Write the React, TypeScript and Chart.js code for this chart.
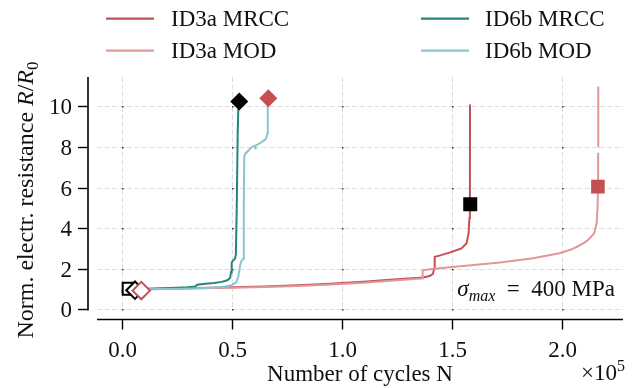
import React, { useEffect, useRef } from 'react';
import { Chart, registerables } from 'chart.js';

Chart.register(...registerables);

// ---------- data ----------
const xTickValues = [0, 50000, 100000, 150000, 200000];
const xTickLabels = ['0.0', '0.5', '1.0', '1.5', '2.0'];
const yTickValues = [0, 2, 4, 6, 8, 10];
const yTickLabels = ['0', '2', '4', '6', '8', '10'];

const X_MIN = -11230;
const X_MAX = 227900;
const Y_MIN = -0.05;
const Y_MAX = 11.45;

const id3aMrccX = [0, 2000, 8000, 20000, 35000, 50000, 65000, 80000, 95000, 100000, 110000, 122000, 130000, 135000, 137000, 140000, 141500, 142000, 142300, 144000, 149000, 154500, 156800, 157700, 158100, 158300, 158350];
const id3aMrccY = [0.92, 0.97, 1.0, 1.03, 1.06, 1.09, 1.13, 1.19, 1.27, 1.3, 1.37, 1.47, 1.53, 1.56, 1.58, 1.65, 1.75, 2.0, 2.6, 2.64, 2.8, 3.01, 3.26, 3.75, 4.5, 6.0, 10.1];

const id3aModX = [0, 2000, 8000, 20000, 35000, 50000, 65000, 80000, 95000, 110000, 122000, 130000, 134000, 136600, 136800, 140000, 149000, 160000, 172000, 187000, 199000, 204000, 207000, 210000, 212000, 214800, 215900, 216350, 216550, 216600, 216600, 216600, 216650];
const id3aModY = [0.9, 0.95, 0.98, 1.01, 1.04, 1.07, 1.11, 1.16, 1.23, 1.32, 1.41, 1.48, 1.51, 1.53, 1.93, 1.98, 2.08, 2.19, 2.31, 2.52, 2.77, 2.94, 3.09, 3.27, 3.42, 3.75, 4.25, 5.06, 6.05, 7.72, null, 8.02, 10.98];

const id6bMrccX = [0, 600, 1500, 5000, 12000, 22000, 30000, 33500, 34300, 38000, 42000, 45500, 48000, 49300, 49700, 50000, 50500, 51500, 51900, 52300, 52700, 53000, 53400];
const id6bMrccY = [0.82, 0.94, 0.99, 1.0, 1.02, 1.06, 1.1, 1.13, 1.22, 1.27, 1.31, 1.36, 1.44, 1.55, 1.85, 2.3, 2.4, 2.5, 2.7, 5.0, 8.5, 9.85, 10.24];

const id6bModX = [0, 800, 2500, 8000, 18000, 28000, 36000, 42000, 47000, 50000, 52000, 53000, 53700, 54300, 55200, 55500, 55700, 56100, 57500, 59000, 60700, 60800, 60900, 61400, 63600, 65600, 66200, 66400, 66640];
const id6bModY = [0.86, 0.95, 0.99, 1.0, 1.01, 1.02, 1.04, 1.08, 1.13, 1.2, 1.33, 1.6, 2.1, 2.35, 2.5, 5.0, 7.53, 7.66, 7.82, 7.99, 8.07, 7.88, 8.08, 8.1, 8.24, 8.4, 8.65, 9.99, 10.4];

// start / end markers
const startSquareBlack = { x: 3180, y: 1.02 };
const startDiamondBlack = { x: 6050, y: 0.95 };
const startDiamondRed = { x: 8900, y: 0.93 };
const endDiamondBlack = { x: 53450, y: 10.24 };
const endDiamondRed = { x: 66640, y: 10.4 };
const endSquareBlack = { x: 158450, y: 5.18 };
const endSquareRed = { x: 216500, y: 6.05 };

const seriesNames = ['ID3a MRCC', 'ID3a MOD', 'ID6b MRCC', 'ID6b MOD'];
const seriesColors = ['#c44e52', '#e0979a', '#238677', '#8cc3d1'];
const RED = '#c44e52';

const FONT = "'Liberation Serif', 'Times New Roman', serif";
const FS = 23;

const zip = (xs: number[], ys: (number | null)[]) => xs.map((x, i) => ({ x, y: ys[i] }));

type Run = { t: string; f: string; dy?: number };

function runsWidth(ctx: CanvasRenderingContext2D, runs: Run[]) {
  let w = 0;
  for (const r of runs) {
    ctx.font = r.f;
    w += ctx.measureText(r.t).width;
  }
  return w;
}
function drawRuns(ctx: CanvasRenderingContext2D, runs: Run[], x: number, y: number, align: 'left' | 'center' | 'right') {
  const w = runsWidth(ctx, runs);
  let cx = align === 'left' ? x : align === 'center' ? x - w / 2 : x - w;
  ctx.textAlign = 'left';
  ctx.textBaseline = 'alphabetic';
  for (const r of runs) {
    ctx.font = r.f;
    ctx.fillText(r.t, cx, y + (r.dy || 0));
    cx += ctx.measureText(r.t).width;
  }
}

const reg = `${FS}px ${FONT}`;
const ita = `italic ${FS}px ${FONT}`;
const small = `16px ${FONT}`;
const smallIta = `italic 16px ${FONT}`;
const yReg = `24px ${FONT}`;
const yIta = `italic 24px ${FONT}`;
const ySmall = `17px ${FONT}`;

const decor = {
  id: 'decor',
  beforeDatasetsDraw(chart: any) {
    const { ctx, chartArea: ca } = chart;
    const xs = chart.scales.x;
    const ys = chart.scales.y;
    ctx.save();
    ctx.strokeStyle = '#dddddd';
    ctx.lineWidth = 1;
    ctx.setLineDash([5, 2.5]);
    for (const v of yTickValues) {
      const py = Math.round(ys.getPixelForValue(v)) + 0.5;
      ctx.beginPath();
      ctx.moveTo(ca.left, py);
      ctx.lineTo(ca.right, py);
      ctx.stroke();
    }
    for (const v of xTickValues) {
      const px = Math.round(xs.getPixelForValue(v)) + 0.5;
      ctx.beginPath();
      ctx.moveTo(px, ca.top);
      ctx.lineTo(px, ca.bottom);
      ctx.stroke();
    }
    ctx.setLineDash([]);
    ctx.fillStyle = 'rgba(0,0,0,0.75)';
    for (const vx of xTickValues) {
      for (const vy of yTickValues) {
        const px = Math.round(xs.getPixelForValue(vx));
        const py = Math.round(ys.getPixelForValue(vy));
        ctx.fillRect(px, py, 1.5, 1.5);
      }
    }
    ctx.restore();
  },
  afterDraw(chart: any) {
    const { ctx, chartArea: ca } = chart;
    const xs = chart.scales.x;
    const ys = chart.scales.y;
    ctx.save();
    // spines (offset)
    const spineX = ca.left - 9;
    const spineY = ca.bottom + 9;
    ctx.strokeStyle = '#000';
    ctx.lineWidth = 1.6;
    ctx.beginPath();
    ctx.moveTo(spineX, ca.top);
    ctx.lineTo(spineX, ca.bottom);
    ctx.stroke();
    ctx.beginPath();
    ctx.moveTo(ca.left, spineY);
    ctx.lineTo(ca.right, spineY);
    ctx.stroke();
    // ticks
    ctx.lineWidth = 1.4;
    ctx.fillStyle = '#111';
    for (let i = 0; i < yTickValues.length; i++) {
      const py = Math.round(ys.getPixelForValue(yTickValues[i])) + 0.5;
      ctx.beginPath();
      ctx.moveTo(spineX, py);
      ctx.lineTo(spineX - 10, py);
      ctx.stroke();
      ctx.font = reg;
      ctx.textAlign = 'right';
      ctx.textBaseline = 'middle';
      ctx.fillText(yTickLabels[i], spineX - 16, py + 1);
    }
    for (let i = 0; i < xTickValues.length; i++) {
      const px = Math.round(xs.getPixelForValue(xTickValues[i])) + 0.5;
      ctx.beginPath();
      ctx.moveTo(px, spineY);
      ctx.lineTo(px, spineY + 10);
      ctx.stroke();
      ctx.font = reg;
      ctx.textAlign = 'center';
      ctx.textBaseline = 'alphabetic';
      ctx.fillText(xTickLabels[i], px, 357);
    }
    // axis labels
    drawRuns(ctx, [{ t: 'Number of cycles N', f: reg }], (ca.left + ca.right) / 2, 381, 'center');
    drawRuns(ctx, [{ t: '\u00d710', f: reg }, { t: '5', f: small, dy: -9 }], 625, 380, 'right');
    ctx.save();
    ctx.translate(33, 200);
    ctx.rotate(-Math.PI / 2);
    drawRuns(ctx, [
      { t: 'Norm. electr. resistance ', f: yReg },
      { t: 'R', f: yIta },
      { t: '/', f: yReg },
      { t: 'R', f: yIta },
      { t: '0', f: ySmall, dy: 5 },
    ], 0, 0, 'center');
    ctx.restore();
    // annotation
    drawRuns(ctx, [
      { t: '\u03c3', f: ita },
      { t: 'max', f: smallIta, dy: 5 },
      { t: '  =  ', f: reg },
      { t: '400 MPa', f: reg },
    ], 615, 296, 'right');
    // legend
    const rows = [18.7, 50.7];
    const cols = [{ lx: 106, tx: 171 }, { lx: 421, tx: 485 }];
    for (let i = 0; i < 4; i++) {
      const c = cols[Math.floor(i / 2)];
      const y = rows[i % 2];
      ctx.strokeStyle = seriesColors[i];
      ctx.lineWidth = 2.2;
      ctx.beginPath();
      ctx.moveTo(c.lx, y);
      ctx.lineTo(c.lx + 48, y);
      ctx.stroke();
      ctx.fillStyle = '#111';
      ctx.font = reg;
      ctx.textAlign = 'left';
      ctx.textBaseline = 'middle';
      ctx.fillText(seriesNames[i], c.tx, y + 1);
    }
    ctx.restore();
  },
};

function lineDs(i: number, xs: number[], ys: (number | null)[], order: number) {
  return {
    label: seriesNames[i],
    data: zip(xs, ys),
    showLine: true,
    borderColor: seriesColors[i],
    backgroundColor: seriesColors[i],
    borderWidth: 2,
    pointRadius: 0,
    tension: 0,
    spanGaps: false,
    order,
  };
}
function markerDs(p: { x: number; y: number }, style: string, r: number, fill: string, edge: string, bw: number, order: number) {
  return {
    data: [p],
    showLine: false,
    pointStyle: style,
    pointRadius: r,
    backgroundColor: fill,
    borderColor: edge,
    borderWidth: bw,
    order,
  };
}

export default function App() {
  const ref = useRef<HTMLCanvasElement>(null);
  useEffect(() => {
    document.body.style.margin = '0';
    const canvas = ref.current!;
    const datasets: any[] = [
      markerDs(startDiamondRed, 'rectRot', 8.7, '#ffffff', RED, 2, 1),
      markerDs(startDiamondBlack, 'rectRot', 8.7, '#ffffff', '#000', 2, 2),
      markerDs(startSquareBlack, 'rect', 8.5, '#ffffff', '#000', 2, 3),
      markerDs(endDiamondBlack, 'rectRot', 9, '#000', '#000', 0, 4),
      markerDs(endDiamondRed, 'rectRot', 9, RED, RED, 0, 5),
      markerDs(endSquareBlack, 'rect', 9.9, '#000', '#000', 0, 6),
      markerDs(endSquareRed, 'rect', 9.6, RED, RED, 0, 7),
      lineDs(3, id6bModX, id6bModY, 10),
      lineDs(2, id6bMrccX, id6bMrccY, 11),
      lineDs(1, id3aModX, id3aModY, 12),
      lineDs(0, id3aMrccX, id3aMrccY, 13),
    ];
    const chart = new Chart(canvas, {
      type: 'scatter',
      data: { datasets },
      options: {
        responsive: false,
        animation: false,
        devicePixelRatio: 1,
        events: [],
        layout: { padding: { left: 97, right: 11, top: 77, bottom: 77.5 } },
        scales: {
          x: { type: 'linear', display: false, min: X_MIN, max: X_MAX },
          y: { type: 'linear', display: false, min: Y_MIN, max: Y_MAX },
        },
        plugins: { legend: { display: false }, tooltip: { enabled: false } },
      },
      plugins: [decor],
    } as any);
    return () => chart.destroy();
  }, []);
  return <canvas ref={ref} width={634} height={388} style={{ display: 'block' }} />;
}
